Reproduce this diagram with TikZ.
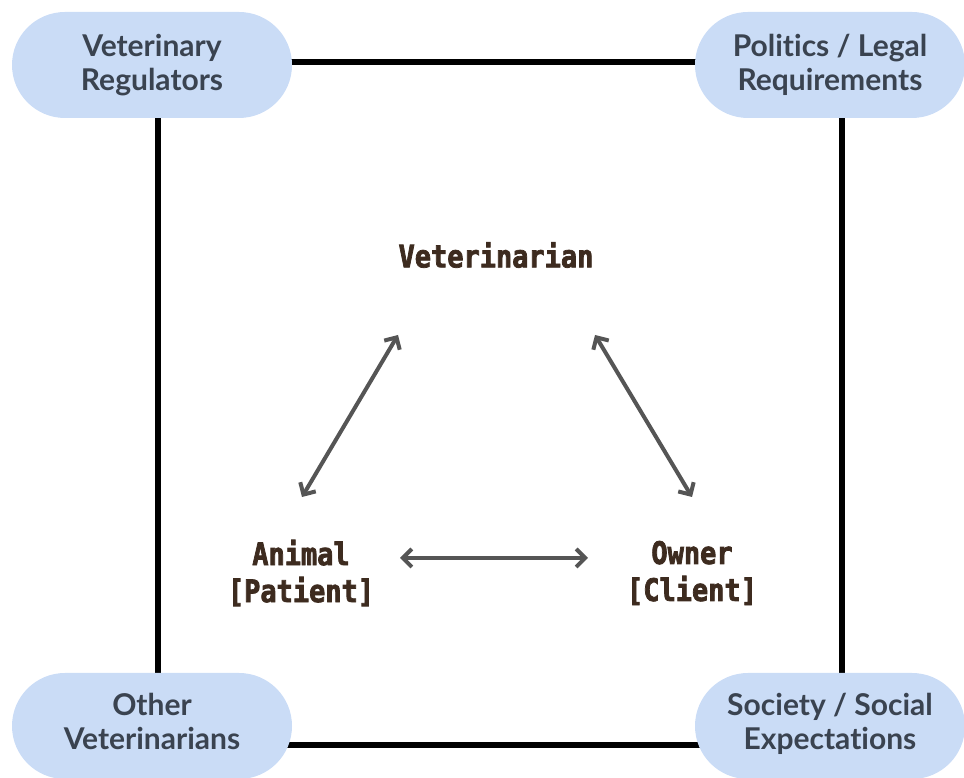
\documentclass[tikz,border=0pt]{standalone}
\usepackage{fontspec}
\setmainfont{Lato}
\newfontfamily\pillfont[Ligatures={NoCommon,NoRare}]{Lato}
\newfontfamily\monofont[FakeStretch=0.87,BoldFeatures={FakeBold=2.4}]{DejaVu Sans Mono}
\usetikzlibrary{arrows.meta,backgrounds}
\definecolor{pillblue}{HTML}{CADCF6}
\definecolor{pilltext}{HTML}{3A4350}
\definecolor{brownt}{HTML}{3D2B1F}
\definecolor{arrowgray}{HTML}{555555}
\newcommand{\liftedtext}[2]{\raisebox{#1}{\begin{tabular}{@{}c@{}}#2\end{tabular}}}
\tikzset{
  pill/.style={fill=pillblue, draw=none, rectangle, rounded corners=53pt,
    minimum height=106pt, align=center, text=pilltext,
    font=\pillfont\bfseries\fontsize{30pt}{34pt}\selectfont},
  actor/.style={align=center, text=brownt,
    font=\monofont\bfseries\fontsize{31pt}{37pt}\selectfont},
  frameline/.style={line width=6pt, black},
  rel/.style={line width=4pt, arrowgray,
    {Straight Barb[length=9pt,width=18pt]}-{Straight Barb[length=9pt,width=18pt]}}
}
\begin{document}
\begin{tikzpicture}[x=1pt,y=1pt]
\useasboundingbox (0,0) rectangle (964,778);
% corner pills
\node[pill, minimum width=280pt] (tl) at (152,713) {Veterinary\\Regulators};
\node[pill, minimum width=270pt] (tr) at (830,713) {Politics / Legal\\Requirements};
\node[pill, minimum width=280pt] (bl) at (152,52) {\liftedtext{7pt}{Other\\Veterinarians}};
\node[pill, minimum width=270pt] (br) at (830,52) {\liftedtext{6pt}{Society / Social\\Expectations}};
% frame lines behind pills
\begin{scope}[on background layer]
\draw[frameline] ([yshift=3pt]tl.center) -- ([yshift=3pt]tr.center);
\draw[frameline] ([xshift=6pt]tl.center) -- ([xshift=6pt]bl.center);
\draw[frameline] ([xshift=12pt]tr.center) -- ([xshift=12pt]br.center);
\draw[frameline] ([yshift=-19pt]bl.center) -- ([yshift=-19pt]br.center);
\end{scope}
% actors
\node[actor] (vet) at (496,523) {Veterinarian};
\node[actor] (animal) at (301,205) {Animal\\{[}Patient{]}};
\node[actor] (owner) at (692,205) {Owner\\{[}Client{]}};
% arrow end points
\coordinate (avl) at (302,281);
\coordinate (vla) at (398,443);
\coordinate (vro) at (595,443);
\coordinate (ovr) at (692,281);
\coordinate (aho) at (400,220);
\coordinate (oha) at (588,220);
\draw[rel] (avl) -- (vla);
\draw[rel] (vro) -- (ovr);
\draw[rel] (aho) -- (oha);
\end{tikzpicture}
\end{document}
